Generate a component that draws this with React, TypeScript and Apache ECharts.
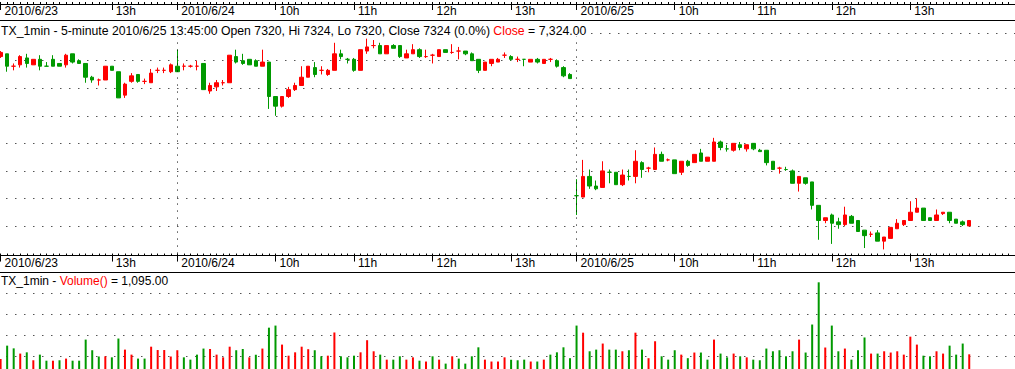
import { useEffect, useRef } from "react";
import * as echarts from "echarts";

// ---- data ----
const sessions = [
  { day: "2010/6/23", start: "11:35" },
  { day: "2010/6/24", start: "08:45" },
  { day: "2010/6/25", start: "08:45" },
];
const sessionEnd = "13:45";
const emptySlots = 7;

const open = [
  7443, 7445, 7436, 7437, 7442, 7437, 7441, 7436, 7441, 7438,
  7437, 7445, 7440, 7438, 7428, 7426, 7426, 7436, 7432, 7415,
  7425, 7430, 7425, 7424, 7433, 7433, 7432, 7436, 7436, 7436,
  7436, 7438, 7418, 7421, 7424, 7424, 7443, 7440, 7441, 7440,
  7436, 7439, 7414, 7407, 7414, 7419, 7422, 7428, 7435, 7433,
  7430, 7433, 7445, 7441, 7441, 7433, 7447, 7451, 7451, 7445,
  7451, 7451, 7442, 7445, 7448, 7443, 7444, 7443, 7448, 7446,
  7447, 7447, 7445, 7441, 7433, 7438, 7439, 7444, 7443, 7441,
  7441, 7439, 7441, 7438, 7441, 7440, 7435, 7430, 7342, 7341,
  7356, 7349, 7348, 7359, 7359, 7350, 7356, 7356, 7366, 7362,
  7361, 7372, 7368, 7368, 7359, 7367, 7366, 7373, 7367, 7367,
  7381, 7376, 7375, 7379, 7376, 7380, 7375, 7375, 7367, 7362,
  7361, 7360, 7351, 7355, 7352, 7335, 7324, 7328, 7323, 7321,
  7327, 7324, 7317, 7314, 7315, 7309, 7311, 7318, 7321, 7324,
  7330, 7333, 7326, 7324, 7329, 7330, 7325, 7323, 7320,
];
const high = [
  7447, 7445, 7438, 7444, 7445, 7441, 7444, 7439, 7444, 7438,
  7445, 7445, 7441, 7438, 7429, 7427, 7436, 7436, 7432, 7424,
  7431, 7430, 7427, 7434, 7435, 7435, 7438, 7448, 7438, 7437,
  7440, 7438, 7424, 7426, 7426, 7444, 7448, 7445, 7441, 7441,
  7448, 7439, 7414, 7414, 7421, 7424, 7436, 7436, 7439, 7436,
  7434, 7453, 7448, 7442, 7442, 7448, 7456, 7455, 7453, 7451,
  7452, 7451, 7448, 7452, 7449, 7448, 7445, 7448, 7448, 7452,
  7450, 7447, 7446, 7441, 7439, 7441, 7442, 7446, 7444, 7443,
  7441, 7441, 7442, 7441, 7442, 7441, 7436, 7431, 7354, 7368,
  7361, 7353, 7367, 7361, 7359, 7361, 7361, 7375, 7367, 7363,
  7377, 7374, 7369, 7368, 7367, 7368, 7372, 7376, 7370, 7384,
  7382, 7379, 7380, 7381, 7379, 7380, 7376, 7375, 7367, 7363,
  7363, 7361, 7356, 7355, 7352, 7335, 7326, 7329, 7326, 7334,
  7328, 7324, 7317, 7316, 7317, 7312, 7319, 7325, 7324, 7338,
  7340, 7333, 7326, 7332, 7330, 7330, 7325, 7324, 7324,
];
const low = [
  7442, 7432, 7433, 7435, 7435, 7437, 7433, 7436, 7436, 7436,
  7435, 7438, 7438, 7424, 7424, 7422, 7426, 7433, 7413, 7413,
  7424, 7424, 7423, 7424, 7431, 7431, 7431, 7432, 7433, 7435,
  7433, 7419, 7416, 7418, 7422, 7424, 7438, 7437, 7437, 7436,
  7436, 7405, 7400, 7406, 7413, 7418, 7422, 7428, 7428, 7430,
  7429, 7433, 7441, 7438, 7432, 7433, 7445, 7449, 7445, 7445,
  7449, 7442, 7442, 7445, 7442, 7442, 7438, 7443, 7446, 7445,
  7441, 7444, 7440, 7431, 7433, 7436, 7439, 7442, 7440, 7439,
  7436, 7439, 7438, 7438, 7439, 7435, 7428, 7427, 7328, 7341,
  7347, 7346, 7348, 7351, 7350, 7349, 7353, 7351, 7355, 7359,
  7361, 7367, 7367, 7358, 7357, 7363, 7366, 7367, 7367, 7367,
  7375, 7374, 7374, 7375, 7374, 7375, 7374, 7364, 7361, 7358,
  7360, 7351, 7345, 7350, 7332, 7310, 7322, 7307, 7318, 7320,
  7322, 7316, 7304, 7312, 7309, 7303, 7311, 7318, 7320, 7324,
  7330, 7324, 7324, 7324, 7328, 7322, 7322, 7320, 7320,
];
const close = [
  7446, 7436, 7436, 7443, 7438, 7441, 7436, 7436, 7436, 7436,
  7444, 7439, 7438, 7428, 7426, 7426, 7436, 7433, 7413, 7423,
  7429, 7425, 7425, 7431, 7433, 7433, 7437, 7432, 7436, 7436,
  7436, 7419, 7422, 7424, 7424, 7444, 7439, 7438, 7437, 7436,
  7439, 7414, 7407, 7414, 7419, 7422, 7428, 7436, 7430, 7433,
  7433, 7445, 7443, 7441, 7433, 7448, 7450, 7451, 7445, 7451,
  7449, 7443, 7445, 7448, 7443, 7443, 7444, 7448, 7446, 7446,
  7447, 7445, 7440, 7433, 7439, 7441, 7441, 7444, 7441, 7441,
  7441, 7441, 7439, 7441, 7441, 7436, 7429, 7427, 7342, 7356,
  7349, 7347, 7360, 7359, 7350, 7357, 7356, 7367, 7361, 7362,
  7372, 7367, 7368, 7358, 7367, 7364, 7372, 7367, 7370, 7381,
  7377, 7376, 7380, 7377, 7379, 7376, 7374, 7366, 7361, 7362,
  7361, 7351, 7356, 7351, 7335, 7324, 7326, 7322, 7321, 7328,
  7322, 7316, 7313, 7314, 7309, 7312, 7319, 7322, 7324, 7330,
  7333, 7324, 7324, 7328, 7330, 7324, 7322, 7321, 7324,
];
// doji bars (open == close) drawn in red
const redDoji = [2, 15, 22, 24, 25, 28, 29, 30, 34, 49, 57, 65, 66, 69, 70, 77, 79, 84, 99, 102, 119, 133];

const volume = [
  870, 1510, 1380, 1130, 1190, 810, 1080, 790, 790, 810,
  890, 790, 790, 1800, 1290, 990, 1000, 950, 1850, 1320,
  1080, 890, 890, 1460, 1300, 1300, 990, 1290, 950, 840,
  1080, 1370, 1350, 1080, 950, 1460, 1290, 1350, 950, 1080,
  1370, 2370, 2470, 1560, 1030, 1190, 1460, 1340, 1290, 1000,
  1030, 2140, 1000, 950, 1030, 1190, 1770, 1240, 1080, 840,
  840, 1000, 840, 950, 790, 750, 1000, 840, 650, 1000,
  890, 650, 1000, 1430, 840, 750, 750, 950, 840, 810,
  840, 750, 750, 840, 1080, 1190, 1430, 910, 2470, 2130,
  1240, 1320, 1610, 1320, 1320, 1240, 1290, 2130, 1320, 910,
  1720, 1000, 840, 1290, 1080, 910, 1180, 1180, 840, 1800,
  1130, 950, 1130, 1000, 950, 840, 810, 1370, 1240, 1290,
  1000, 1240, 1800, 1180, 2520, 4540, 1420, 2470, 1240, 1370,
  840, 1290, 1900, 1130, 1130, 1240, 1180, 1240, 1080, 1940,
  1560, 1030, 1000, 1240, 1130, 1510, 1080, 1610, 1095,
];
// r = up volume, g = down volume
const volumeDir =
  "rggrgrggrg" + "rgggggrggr" + "rggrrrrrgg" + "ggrrrrggrg" + "rggrrrrrgg" +
  "rrgggrrrgr" + "ggrrgrgrgr" + "ggggrrrrgg" + "grgrgggggr" + "ggrggrgrgr" +
  "rgggrgrggr" + "ggrgrggggg" + "ggrgggrggr" + "gggrgrrrrr" + "rggrrgggr";

// ---- styling ----
const RED = "#ff0000";
const GREEN = "#009900";
const FONT = '"Liberation Sans", Arial, sans-serif';

// ---- derived categories / labels ----
const toMin = (s: string) => {
  const [h, m] = s.split(":").map(Number);
  return h * 60 + m;
};
const pad = (n: number) => String(n).padStart(2, "0");
const fmt = (m: number) => `${pad(Math.floor(m / 60))}:${pad(m % 60)}`;
const categories: string[] = [];
const tickText: string[] = [];
const dayStartIdx: number[] = [];
sessions.forEach((s) => {
  let k = 0;
  for (let m = toMin(s.start); m <= toMin(sessionEnd); m += 5, k++) {
    if (k === 0) dayStartIdx.push(categories.length);
    categories.push(`${s.day} ${fmt(m)}`);
    tickText.push(k === 0 ? s.day : m % 60 === 0 && k >= 8 ? `${Math.floor(m / 60)}h` : "");
  }
});
const lastDay = sessions[sessions.length - 1].day;
for (let j = 1; j <= emptySlots; j++) {
  categories.push(`${lastDay} ${fmt(toMin(sessionEnd) + 5 * j)}`);
  tickText.push("");
}

export default function App() {
  const ref = useRef<HTMLDivElement>(null);
  useEffect(() => {
    if (!ref.current) return;
    const chart = echarts.init(ref.current, undefined, { renderer: "svg" });

    const n = close.length;
    const candleData = open.map((o, i) => {
      const c = close[i];
      const up = c > o || (c === o && redDoji.includes(i));
      const col = up ? RED : GREEN;
      return {
        value: [o, c, low[i], high[i]],
        itemStyle: { color: col, color0: col, borderColor: col, borderColor0: col, borderColorDoji: col },
      };
    });
    const volData = volume.map((v, i) => ({
      value: v,
      itemStyle: { color: volumeDir[i] === "r" ? RED : GREEN },
    }));

    const lastO = open[n - 1], lastH = high[n - 1], lastL = low[n - 1], lastC = close[n - 1];
    const pct = (((lastC - close[n - 2]) / close[n - 2]) * 100).toFixed(1);
    const money = (v: number) => v.toLocaleString("en-US", { minimumFractionDigits: 2, maximumFractionDigits: 2 });
    const lastCat = categories[n - 1];
    const priceTitle =
      `{k|TX_1min - 5-minute ${lastCat}:00 Open ${lastO}, Hi ${lastH}, Lo ${lastL}, Close ${lastC} (${pct}%) }` +
      `{r|Close}{k| = ${money(lastC)}}`;
    const volTitle = `{k|TX_1min - }{r|Volume()}{k| = ${money(volume[n - 1])}}`;

    const L = -2.67;
    const W = 1021;
    const isLabel = (i: number) => tickText[i] !== "";
    const axisBase = (gridIndex: number, offset: number) => ({
      type: "category" as const,
      gridIndex,
      position: "bottom",
      data: categories,
      offset,
      boundaryGap: true,
      axisLine: { show: true, lineStyle: { color: "#000", width: 1 } },
      splitLine: { show: false },
    });
    const majorAxis = (g: number, off: number) => ({
      ...axisBase(g, off),
      axisTick: {
        show: true, alignWithLabel: true, inside: false, length: 6,
        interval: (i: number) => isLabel(i), lineStyle: { color: "#000", width: 1 },
      },
      axisLabel: {
        show: true, interval: (i: number) => isLabel(i),
        formatter: (_v: string, i: number) => tickText[i],
        align: "left", verticalAlign: "top", padding: [0, 0, 0, 4], margin: 1,
        color: "#000", fontFamily: FONT, fontSize: 12,
      },
    });
    const minorAxis = (g: number, off: number) => ({
      ...axisBase(g, off),
      axisTick: { show: true, alignWithLabel: true, inside: true, length: 2, interval: 0, lineStyle: { color: "#000", width: 1 } },
      axisLabel: { show: false },
    });
    const dotted = { color: "#000", width: 1, type: [1, 8] as number[] };
    const gridBase = { left: L, width: W, containLabel: false, outerBoundsMode: "none" };
    const richStyle = (size: number) => ({
      k: { fill: "#000", fontFamily: FONT, fontSize: size },
      r: { fill: RED, fontFamily: FONT, fontSize: size },
    });

    chart.setOption({
      animation: false,
      backgroundColor: "#fff",
      grid: [
        { ...gridBase, top: -60, height: 64 },
        { ...gridBase, top: 33.15, height: 220.4 },
        { ...gridBase, top: 272.7, height: 104.5 },
      ],
      xAxis: [
        majorAxis(0, 0),
        minorAxis(0, 0),
        majorAxis(1, 2),
        minorAxis(1, 2),
        { ...axisBase(2, 0), show: false },
      ],
      yAxis: [
        { type: "value", gridIndex: 0, show: false },
        {
          type: "value", gridIndex: 1, min: 7300, max: 7460, interval: 20,
          axisLine: { show: false }, axisTick: { show: false }, axisLabel: { show: false },
          splitLine: { show: true, showMinLine: false, showMaxLine: true, lineStyle: dotted },
        },
        {
          type: "value", gridIndex: 2, min: 0, max: 5000, interval: 1000,
          axisLine: { show: false }, axisTick: { show: false }, axisLabel: { show: false },
          splitLine: { show: true, showMinLine: false, showMaxLine: false, lineStyle: dotted },
        },
      ],
      series: [
        {
          type: "candlestick",
          xAxisIndex: 3,
          yAxisIndex: 1,
          barWidth: 4,
          data: candleData,
          itemStyle: { borderWidth: 1 },
          markLine: {
            silent: true,
            symbol: "none",
            label: { show: false },
            lineStyle: { color: "#000", width: 1, type: [1, 6] },
            data: dayStartIdx.slice(1).map((i) => ({ xAxis: categories[i] })),
          },
        },
        {
          type: "bar",
          xAxisIndex: 4,
          yAxisIndex: 2,
          barWidth: 2,
          data: volData,
        },
      ],
      graphic: [
        { type: "line", z: 100, shape: { x1: 0, y1: 20.5, x2: 1015, y2: 20.5 }, style: { stroke: "#000", lineWidth: 1 } },
        { type: "line", z: 100, shape: { x1: 0, y1: 272.5, x2: 1015, y2: 272.5 }, style: { stroke: "#000", lineWidth: 1 } },
        {
          type: "text", z: 100, x: 1, y: 24.5,
          style: { text: priceTitle, backgroundColor: "#fff", rich: richStyle(12.25) },
        },
        {
          type: "text", z: 100, x: 1, y: 275,
          style: { text: volTitle, backgroundColor: "#fff", rich: richStyle(12) },
        },
      ],
    });
    return () => chart.dispose();
  }, []);
  return (
    <div
      ref={ref}
      style={{ position: "absolute", left: 0, top: 0, width: 1015, height: 369, background: "#fff" }}
    />
  );
}
